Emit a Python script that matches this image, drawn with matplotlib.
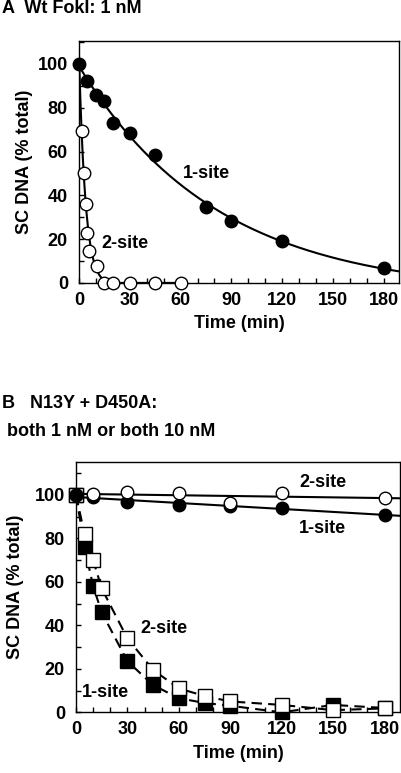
import numpy as np
import matplotlib.pyplot as plt
from matplotlib.ticker import MultipleLocator

plt.rcParams['font.family'] = ['Liberation Sans', 'DejaVu Sans']
plt.rcParams['font.weight'] = 'bold'

FS = 13

# Panel A: wild-type FokI, 1 nM
a_one_t = [0, 5, 10, 15, 20, 30, 45, 75, 90, 120, 180]
a_one_y = [100, 92, 86, 83, 73, 68.5, 58.5, 34.5, 28.5, 19, 7]
a_two_t = [2, 3, 4, 5, 6, 10.5, 14.5, 20, 30, 45, 60]
a_two_y = [69.5, 50, 36, 23, 14.5, 7.5, 0, 0, 0, 0, 0]

# Panel B: N13Y + D450A
b_circ_t = [0, 10, 30, 60, 90, 120, 180]
b_one_circ = [100, 98.9, 96.9, 95.2, 95, 94, 91]
b_two_circ = [100, 100.3, 101.2, 101, 96.5, 100.8, 98.5]
b_sq_t = [0, 5, 10, 15, 30, 45, 60, 75, 90, 120, 150, 180]
b_one_sq = [100, 76, 58, 46, 23.5, 12.5, 6.5, 4.3, 3, 0, 3.4, 2]
b_two_sq = [100, 82, 70, 57, 34, 19.5, 11, 7.5, 5, 3.4, 1, 1.8]

xticks = [0, 30, 60, 90, 120, 150, 180]
yticks = [0, 20, 40, 60, 80, 100]


def exp_fit(t, y, kmax):
    # y = A*exp(-k t) + C, linear in A, C for each k
    t = np.asarray(t, float)
    y = np.asarray(y, float)
    best = None
    for k in np.linspace(kmax / 2000, kmax, 2000):
        M = np.column_stack([np.exp(-k * t), np.ones_like(t)])
        coef, res, _, _ = np.linalg.lstsq(M, y, rcond=None)
        err = np.sum((M @ coef - y) ** 2)
        if best is None or err < best[0]:
            best = (err, k, coef)
    _, k, (A, C) = best
    return lambda x: A * np.exp(-k * x) + C


def style(ax, ytop, ylab_x):
    ax.set_xlim(0, 189)
    ax.set_ylim(0, ytop)
    ax.set_xticks(xticks)
    ax.set_yticks(yticks)
    ax.xaxis.set_minor_locator(MultipleLocator(10))
    ax.yaxis.set_minor_locator(MultipleLocator(10))
    ax.tick_params(which='both', direction='in', length=3.5, width=1,
                   labelsize=FS, top=False, right=False)
    ax.tick_params(axis='y', pad=8)
    ax.tick_params(axis='x', pad=6.5)
    for s in ax.spines.values():
        s.set_linewidth(1)
    for lab in ax.get_xticklabels() + ax.get_yticklabels():
        lab.set_fontweight('bold')
    ax.set_ylabel('SC DNA (% total)', fontsize=FS, fontweight='bold')
    ax.yaxis.set_label_coords(ylab_x, 0.5)
    ax.set_xlabel('Time (min)', fontsize=FS, fontweight='bold', labelpad=4.5)


fig = plt.figure(figsize=(4.01, 7.73), dpi=100)

# ---- A ----
axA = fig.add_axes([0.197, 0.634, 0.798, 0.313])
tt = np.linspace(0, 189, 400)
f1 = exp_fit(a_one_t, a_one_y, 0.05)
axA.plot(tt, f1(tt), 'k-', lw=1.5, zorder=2)
f2 = exp_fit([0] + a_two_t, [100] + a_two_y, 1.0)
t2 = np.linspace(0, 60, 400)
axA.plot(t2, np.clip(f2(t2), 0, None), 'k-', lw=1.5, zorder=2)
axA.plot(a_two_t, a_two_y, 'o', ms=9, mfc='white', mec='black', mew=1, zorder=3, clip_on=False)
axA.plot(a_one_t, a_one_y, 'o', ms=9, mfc='black', mec='black', mew=1, zorder=4, clip_on=False)
axA.text(75, 50, '1-site', fontsize=FS, fontweight='bold', ha='center', va='center')
axA.text(27, 18, '2-site', fontsize=FS, fontweight='bold', ha='center', va='center')
style(axA, 110.5, -0.145)
fig.text(0.004, 0.9885, 'A  Wt FokI: 1 nM', fontsize=FS, fontweight='bold', va='center')

# ---- B ----
axB = fig.add_axes([0.1895, 0.0785, 0.808, 0.3242])
p1 = np.polyfit(b_circ_t, b_one_circ, 1)
p2 = np.polyfit(b_circ_t, b_two_circ, 1)
axB.plot(tt, np.polyval(p1, tt), 'k-', lw=1.5, zorder=2)
axB.plot(tt, np.polyval(p2, tt), 'k-', lw=1.5, zorder=2)
axB.plot(b_sq_t, b_one_sq, 'k--', lw=1.5, dashes=(5, 3), zorder=2)
axB.plot(b_sq_t, b_two_sq, 'k--', lw=1.5, dashes=(5, 3), zorder=2)
axB.plot(b_sq_t, b_one_sq, 's', ms=9.5, mfc='black', mec='black', mew=1, zorder=3, clip_on=False)
axB.plot(b_sq_t, b_two_sq, 's', ms=9.5, mfc='white', mec='black', mew=1, zorder=4, clip_on=False)
axB.plot(b_circ_t, b_one_circ, 'o', ms=9, mfc='black', mec='black', mew=1, zorder=5, clip_on=False)
axB.plot(b_circ_t, b_two_circ, 'o', ms=9, mfc='white', mec='black', mew=1, zorder=6, clip_on=False)
axB.plot([0], [100], 'o', ms=9, mfc='black', mec='black', zorder=7, clip_on=False)
axB.text(144, 105.7, '2-site', fontsize=FS, fontweight='bold', ha='center', va='center')
axB.text(144, 84.7, '1-site', fontsize=FS, fontweight='bold', ha='center', va='center')
axB.text(51.4, 38.7, '2-site', fontsize=FS, fontweight='bold', ha='center', va='center')
axB.text(17, 9.2, '1-site', fontsize=FS, fontweight='bold', ha='center', va='center')
style(axB, 115.3, -0.16)
fig.text(0.004, 0.4774, 'B   N13Y + D450A:', fontsize=FS, fontweight='bold', va='center')
fig.text(0.017, 0.4424, 'both 1 nM or both 10 nM', fontsize=FS, fontweight='bold', va='center')

fig.savefig('out.png', dpi=100)
